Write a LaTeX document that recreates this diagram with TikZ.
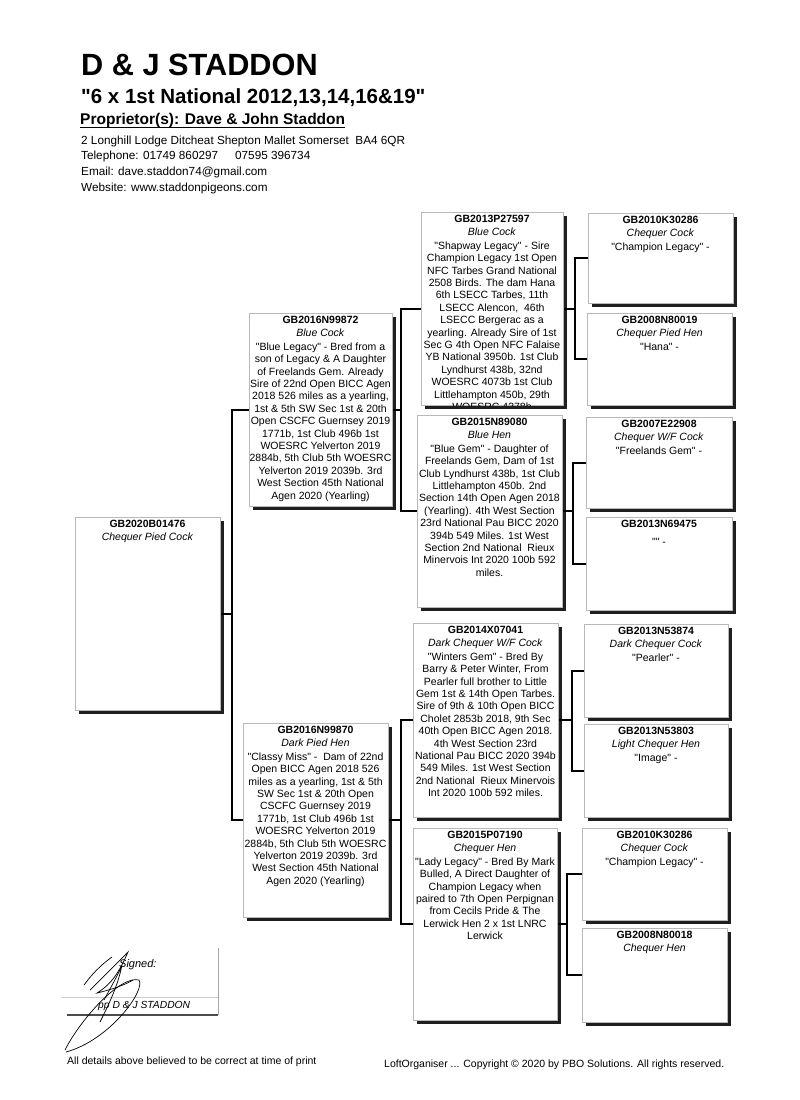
\documentclass[tikz,border=0pt]{standalone}
\usepackage{fontspec}
\setmainfont{Liberation Sans}[Ligatures=TeXOff]
\usetikzlibrary{calc}
\newcommand\pedbox[6]{%
  \fill[shadowc] ({#2+4},{#3+4}) rectangle ({#2+#4+4},{#3+#5+4});
  \node[pbox, minimum width=#4pt, minimum height=#5pt, anchor=north west] (#1) at (#2,#3) {};
  \begin{scope}
    \clip ({#2-12},#3) rectangle ({#2+#4+12},{#3+#5});
    \node[ptext, anchor=north] (#1t) at ({#2+#4/2},{#3+2.5}) {#6};
  \end{scope}
}
\begin{document}
\begin{tikzpicture}[x=1pt,y=-1pt,
  pbox/.style={draw=gray!55, line width=0.5pt, fill=white, inner sep=0pt},
  shadowc/.style={fill=black!88},
  ptext/.style={align=center, inner sep=0pt, font=\fontsize{10.5}{12.4}\selectfont},
  conn/.style={line width=2pt, black},
  hdr/.style={anchor=base west, inner sep=0pt},
  sig/.style={line width=0.7pt, black}]
\fill[white] (0,0) rectangle (800,1100);
\useasboundingbox (0,0) rectangle (800,1100);

% header
\node[hdr, font=\bfseries\fontsize{30.7}{32}\selectfont] (title) at (81,75) {D \& J STADDON};
\node[hdr, font=\bfseries\fontsize{20.5}{22}\selectfont] (sub) at (81,103) {"6 x 1st National 2012,13,14,16\&19"};
\node[hdr, font=\bfseries\fontsize{15.5}{17}\selectfont] (prop) at (80,124) {Proprietor(s): Dave \& John Staddon};
\draw[line width=1.2pt] ([yshift=-3.2pt]prop.base west) -- ([yshift=-3.2pt]prop.base east);
\node[hdr, font=\fontsize{11.75}{13}\selectfont] (addr) at (81,144) {2 Longhill Lodge Ditcheat Shepton Mallet Somerset\ \ BA4 6QR};
\node[hdr, font=\fontsize{11.75}{13}\selectfont] (tel) at (81,159) {Telephone: 01749 860297\hspace{17pt}07595 396734};
\node[hdr, font=\fontsize{11.75}{13}\selectfont] (email) at (81,175) {Email: dave.staddon74@gmail.com};
\node[hdr, font=\fontsize{11.75}{13}\selectfont] (web) at (81,191) {Website: www.staddonpigeons.com};

% connector bracket x positions
\coordinate (v0) at (232,0);
\coordinate (v1) at (401,0);
\coordinate (v11) at (575,0);
\coordinate (v12) at (573,0);
\coordinate (v21) at (572,0);
\coordinate (v22) at (567,0);

% boxes
\pedbox{b0}{75}{517}{145}{193}{\textbf{GB2020B01476}\\[1.5pt]\textit{Chequer Pied Cock}}

\pedbox{b1}{249}{313}{143}{193}{\textbf{GB2016N99872}\\[1.5pt]\textit{Blue Cock}\\[1pt]
"Blue Legacy" - Bred from a\\
son of Legacy \& A Daughter\\
of Freelands Gem. Already\\
Sire of 22nd Open BICC Agen\\
2018 526 miles as a yearling,\\
1st \& 5th SW Sec 1st \& 20th\\
Open CSCFC Guernsey 2019\\
1771b, 1st Club 496b 1st\\
WOESRC Yelverton 2019\\
2884b, 5th Club 5th WOESRC\\
Yelverton 2019 2039b. 3rd\\
West Section 45th National\\
Agen 2020 (Yearling)}

\pedbox{b2}{243}{723}{145}{194}{\textbf{GB2016N99870}\\[1.5pt]\textit{Dark Pied Hen}\\[1pt]
"Classy Miss" -\ \ Dam of 22nd\\
Open BICC Agen 2018 526\\
miles as a yearling, 1st \& 5th\\
SW Sec 1st \& 20th Open\\
CSCFC Guernsey 2019\\
1771b, 1st Club 496b 1st\\
WOESRC Yelverton 2019\\
2884b, 5th Club 5th WOESRC\\
Yelverton 2019 2039b. 3rd\\
West Section 45th National\\
Agen 2020 (Yearling)}

\pedbox{b11}{421}{212}{142}{193}{\textbf{GB2013P27597}\\[1.5pt]\textit{Blue Cock}\\[1pt]
"Shapway Legacy" - Sire\\
Champion Legacy 1st Open\\
NFC Tarbes Grand National\\
2508 Birds. The dam Hana\\
6th LSECC Tarbes, 11th\\
LSECC Alencon,\ \ 46th\\
LSECC Bergerac as a\\
yearling. Already Sire of 1st\\
Sec G 4th Open NFC Falaise\\
YB National 3950b. 1st Club\\
Lyndhurst 438b, 32nd\\
WOESRC 4073b 1st Club\\
Littlehampton 450b, 29th\\
WOESRC 4378b}

\pedbox{b12}{417}{415}{145}{192}{\textbf{GB2015N89080}\\[1.5pt]\textit{Blue Hen}\\[1pt]
"Blue Gem" - Daughter of\\
Freelands Gem, Dam of 1st\\
Club Lyndhurst 438b, 1st Club\\
Littlehampton 450b. 2nd\\
Section 14th Open Agen 2018\\
(Yearling). 4th West Section\\
23rd National Pau BICC 2020\\
394b 549 Miles. 1st West\\
Section 2nd National\ \ Rieux\\
Minervois Int 2020 100b 592\\
miles.}

\pedbox{b21}{413}{623}{145}{194}{\textbf{GB2014X07041}\\[1.5pt]\textit{Dark Chequer W/F Cock}\\[1pt]
"Winters Gem" - Bred By\\
Barry \& Peter Winter, From\\
Pearler full brother to Little\\
Gem 1st \& 14th Open Tarbes.\\
Sire of 9th \& 10th Open BICC\\
Cholet 2853b 2018, 9th Sec\\
40th Open BICC Agen 2018.\\
4th West Section 23rd\\
National Pau BICC 2020 394b\\
549 Miles. 1st West Section\\
2nd National\ \ Rieux Minervois\\
Int 2020 100b 592 miles.}

\pedbox{b22}{413}{828}{144}{192}{\textbf{GB2015P07190}\\[1.5pt]\textit{Chequer Hen}\\[1pt]
"Lady Legacy" - Bred By Mark\\
Bulled, A Direct Daughter of\\
Champion Legacy when\\
paired to 7th Open Perpignan\\
from Cecils Pride \& The\\
Lerwick Hen 2 x 1st LNRC\\
Lerwick}

\pedbox{c1}{588}{213}{145}{90}{\textbf{GB2010K30286}\\[1.5pt]\textit{Chequer Cock}\\[1pt]"Champion Legacy" -}
\pedbox{c2}{587}{313}{145}{92}{\textbf{GB2008N80019}\\[1.5pt]\textit{Chequer Pied Hen}\\[1pt]"Hana" -}
\pedbox{c3}{586}{417}{146}{91}{\textbf{GB2007E22908}\\[1.5pt]\textit{Chequer W/F Cock}\\[1pt]"Freelands Gem" -}
\pedbox{c4}{586}{517}{146}{93}{\textbf{GB2013N69475}\\[6pt]"" -}
\pedbox{d1}{584}{624}{144}{93}{\textbf{GB2013N53874}\\[1.5pt]\textit{Dark Chequer Cock}\\[1pt]"Pearler" -}
\pedbox{d2}{584}{724}{144}{93}{\textbf{GB2013N53803}\\[1.5pt]\textit{Light Chequer Hen}\\[1pt]"Image" -}
\pedbox{d3}{582}{828}{145}{92}{\textbf{GB2010K30286}\\[1.5pt]\textit{Chequer Cock}\\[1pt]"Champion Legacy" -}
\pedbox{d4}{582}{928}{145}{94}{\textbf{GB2008N80018}\\[1.5pt]\textit{Chequer Hen}}

% connectors
\draw[conn] (b1.west) -| (v0 |- b0.east) -- (b0.east);
\draw[conn] (b2.west) -| (v0 |- b0.east);
\draw[conn] (b11.west) -| (v1 |- b1.east) -- (b1.east);
\draw[conn] (b12.west) -| (v1 |- b1.east);
\draw[conn] (b21.west) -| (v1 |- b2.east) -- (b2.east);
\draw[conn] (b22.west) -| (v1 |- b2.east);
\draw[conn] (c1.west) -| (v11 |- b11.east) -- (b11.east);
\draw[conn] (c2.west) -| (v11 |- b11.east);
\draw[conn] (c3.west) -| (v12 |- b12.east) -- (b12.east);
\draw[conn] (c4.west) -| (v12 |- b12.east);
\draw[conn] (d1.west) -| (v21 |- b21.east) -- (b21.east);
\draw[conn] (d2.west) -| (v21 |- b21.east);
\draw[conn] (d3.west) -| (v22 |- b22.east) -- (b22.east);
\draw[conn] (d4.west) -| (v22 |- b22.east);

% signature block
\draw[gray!40, line width=0.6pt] (62,997) -- (218,997);
\draw[gray!70, line width=1pt] (218,948) -- (218,1015);
\draw[gray!60!black, line width=1.6pt] (67,1015) -- (218,1015);
\node[hdr, font=\itshape\fontsize{11}{12}\selectfont] (signed) at (119,967) {Signed:};
\node[hdr, font=\itshape\fontsize{10.3}{12}\selectfont] (pp) at (98,1008) {pp D \& J STADDON};
\draw[sig] (65,1050) .. controls (80,1020) and (120,975) .. (139,980) .. controls (146,990) and (110,1040) .. (66,1052);
\draw[sig] (90,990) .. controls (105,975) and (120,960) .. (128,952) .. controls (118,975) and (110,985) .. (97,993) .. controls (110,990) and (125,985) .. (133,980);
\draw[sig] (104,1000) .. controls (112,985) and (118,975) .. (122,965) .. controls (118,985) and (110,1002) .. (100,1022);
\draw[sig] (84,985) .. controls (95,970) and (105,962) .. (112,957);

% footer
\node[hdr, font=\fontsize{10.5}{12}\selectfont] (foot1) at (67,1064) {All details above believed to be correct at time of print};
\node[hdr, font=\fontsize{10.5}{12}\selectfont] (foot2) at (384,1067) {LoftOrganiser ... Copyright © 2020 by PBO Solutions. All rights reserved.};
\end{tikzpicture}
\end{document}
